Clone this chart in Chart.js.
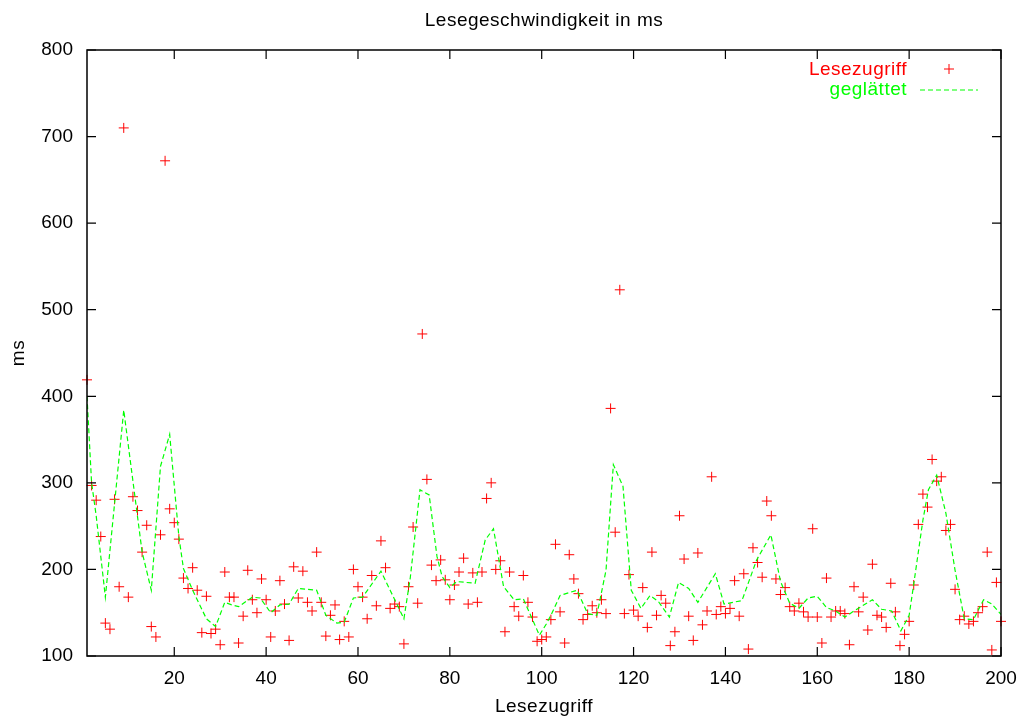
<!DOCTYPE html>
<html>
<head>
<meta charset="utf-8">
<title>Lesegeschwindigkeit in ms</title>
<script src="https://cdn.jsdelivr.net/npm/chart.js@4.4.1/dist/chart.umd.min.js"></script>
<style>
  html, body { margin: 0; padding: 0; background: #fff; }
  #chart { display: block; }
</style>
</head>
<body>
<canvas id="chart" width="1023" height="722"></canvas>
<script>
// Read times per access (ms), access number = index + 1
var readTimes = [
  419, 297, 280, 238, 138, 131, 281, 180, 710, 168,
  284, 268, 220, 251, 134, 122, 240, 672, 270, 254,
  235, 190, 178, 202, 176, 127, 169, 126, 131, 113,
  197, 168, 168, 115, 146, 199, 165, 150, 189, 165,
  122, 152, 187, 160, 118, 203, 167, 198, 162, 152,
  220, 162, 123, 147, 159, 119, 140, 122, 200, 180,
  168, 143, 193, 158, 233, 202, 155, 160, 157, 114,
  180, 249, 161, 472, 304, 205, 187, 211, 188, 165,
  182, 197, 213, 160, 196, 162, 197, 282, 300, 200,
  210, 128, 197, 157, 146, 193, 162, 145, 117, 119,
  122, 142, 229, 151, 115, 217, 189, 172, 142, 148,
  158, 150, 165, 149, 386, 243, 523, 149, 194, 153,
  146, 179, 133, 220, 147, 170, 161, 112, 128, 262,
  212, 146, 118, 219, 136, 152, 307, 148, 157, 149,
  155, 187, 146, 195, 108, 225, 208, 191, 279, 262,
  189, 171, 179, 157, 152, 161, 151, 145, 247, 145,
  115, 190, 145, 152, 152, 149, 113, 180, 151, 168,
  130, 206, 147, 145, 133, 184, 151, 112, 125, 140,
  182, 252, 287, 272, 327, 302, 307, 245, 252, 177,
  142, 146, 137, 140, 150, 157, 220, 107, 185, 140
];

// Smoothed curve ("geglättet"), vertices
var smoothX = [
  1, 2, 3, 5, 9, 13, 15, 17, 19, 21,
  22, 24, 27, 29, 31, 32.5, 34, 37, 38.7, 41,
  43, 45, 47, 51, 53, 55.4, 57, 59, 61, 65,
  67, 68, 70, 71.4, 73.5, 75.5, 77.2, 78.3, 80, 81.5,
  85.5, 87.7, 89.5, 91.7, 94, 96, 99.5, 101, 102, 104,
  107.7, 110, 112, 114, 115.6, 117.7, 119.5, 121.6, 123.6, 125.4,
  127.8, 129.8, 132, 134, 137.8, 139.7, 143.6, 146.8, 149.9, 152,
  154, 156, 158, 160, 162, 164, 166, 168, 172, 174,
  176.2, 178.2, 180, 181, 183, 184.2, 186, 188, 190, 192,
  194, 196.2, 198, 200
];
var smoothY = [
  400, 300, 262, 168, 384, 220, 176, 319, 356, 238,
  201, 176, 143, 134, 162, 159, 157, 168, 167, 150,
  159, 160, 178, 176, 147, 138, 139, 167, 168, 198,
  176, 165, 143, 191, 292, 286, 215, 192, 179, 186,
  184, 234, 247, 180, 165, 166, 124, 137, 147, 170,
  176, 149, 147, 199, 321, 296, 176, 155, 170, 163,
  145, 185, 178, 162, 195, 160, 164, 211, 240, 186,
  161, 155, 167, 169, 156, 152, 145, 152, 165, 154,
  152, 129, 147, 183, 257, 292, 309, 265, 199, 143,
  142, 165, 160, 148
];

var xTicks = [20, 40, 60, 80, 100, 120, 140, 160, 180, 200];
var yTicks = [100, 200, 300, 400, 500, 600, 700, 800];

var FONT = "'Liberation Sans', Arial, Helvetica, sans-serif";

var scatterData = readTimes.map(function (v, i) { return { x: i + 1, y: v }; });
var smoothData = smoothX.map(function (x, i) { return { x: x, y: smoothY[i] }; });

// gnuplot look: border, mirrored inward ticks, titles and key
var gnuplotFrame = {
  id: "gnuplotFrame",
  afterDatasetsDraw: function (chart) {
    var ctx = chart.ctx;
    var a = chart.chartArea;
    var xs = chart.scales.x;
    var ys = chart.scales.y;
    var tl = 9;

    ctx.save();
    ctx.strokeStyle = "#000";
    ctx.lineWidth = 1.5;
    ctx.strokeRect(a.left, a.top, a.right - a.left, a.bottom - a.top);

    ctx.lineWidth = 1.2;
    ctx.beginPath();
    xTicks.forEach(function (v) {
      var px = xs.getPixelForValue(v);
      ctx.moveTo(px, a.bottom); ctx.lineTo(px, a.bottom - tl);
      ctx.moveTo(px, a.top); ctx.lineTo(px, a.top + tl);
    });
    yTicks.forEach(function (v) {
      var py = ys.getPixelForValue(v);
      ctx.moveTo(a.left, py); ctx.lineTo(a.left + tl, py);
      ctx.moveTo(a.right, py); ctx.lineTo(a.right - tl, py);
    });
    ctx.stroke();

    var cx = (a.left + a.right) / 2;
    ctx.fillStyle = "#000";
    ctx.font = "19px " + FONT;
    ctx.textAlign = "center";
    ctx.textBaseline = "alphabetic";
    try { ctx.letterSpacing = "0.5px"; } catch (e) {}
    ctx.fillText("Lesegeschwindigkeit in ms", cx, 26);
    ctx.fillText("Lesezugriff", cx, 712);

    ctx.save();
    ctx.translate(24, (a.top + a.bottom) / 2);
    ctx.rotate(-Math.PI / 2);
    ctx.fillText("ms", 0, 0);
    ctx.restore();

    // key
    ctx.textAlign = "right";
    ctx.fillStyle = "#ff0000";
    ctx.fillText("Lesezugriff", 907, 75);
    ctx.fillStyle = "#00ff00";
    ctx.fillText("geglättet", 907, 95);

    ctx.strokeStyle = "#ff0000";
    ctx.lineWidth = 1;
    ctx.beginPath();
    ctx.moveTo(944, 69); ctx.lineTo(954, 69);
    ctx.moveTo(949, 64); ctx.lineTo(949, 74);
    ctx.stroke();

    ctx.strokeStyle = "#00ff00";
    ctx.lineWidth = 1.2;
    ctx.setLineDash([5, 3]);
    ctx.beginPath();
    ctx.moveTo(920, 90); ctx.lineTo(978, 90);
    ctx.stroke();
    ctx.restore();
  }
};

new Chart(document.getElementById("chart"), {
  type: "scatter",
  data: {
    datasets: [{
      label: "geglättet",
      type: "line",
      data: smoothData,
      showLine: true,
      borderColor: "#00ff00",
      borderWidth: 1.2,
      borderDash: [5, 3],
      pointRadius: 0,
      tension: 0,
      fill: false,
      order: 0
    }, {
      label: "Lesezugriff",
      data: scatterData,
      pointStyle: "cross",
      pointRadius: 5,
      borderColor: "#ff0000",
      backgroundColor: "#ff0000",
      borderWidth: 1,
      clip: false,
      order: 1
    }]
  },
  options: {
    responsive: false,
    animation: false,
    layout: { padding: { left: 0, right: 0, top: 50, bottom: 0 } },
    plugins: {
      legend: { display: false },
      title: { display: false },
      tooltip: { enabled: false }
    },
    scales: {
      x: {
        type: "linear",
        min: 1,
        max: 200,
        grid: { display: false, drawTicks: false },
        border: { display: false },
        afterBuildTicks: function (scale) {
          scale.ticks = xTicks.map(function (v) { return { value: v }; });
        },
        afterFit: function (scale) {
          scale.height = 66;
          scale.paddingLeft = 0;
          scale.paddingRight = 22;
        },
        ticks: {
          color: "#000",
          padding: 11,
          maxRotation: 0,
          autoSkip: false,
          font: { family: FONT, size: 19 }
        }
      },
      y: {
        type: "linear",
        min: 100,
        max: 800,
        grid: { display: false, drawTicks: false },
        border: { display: false },
        afterBuildTicks: function (scale) {
          scale.ticks = yTicks.map(function (v) { return { value: v }; });
        },
        afterFit: function (scale) {
          scale.width = 87;
          scale.paddingTop = 0;
          scale.paddingBottom = 0;
        },
        ticks: {
          color: "#000",
          padding: 14,
          font: { family: FONT, size: 19 }
        }
      }
    }
  },
  plugins: [gnuplotFrame]
});
</script>
</body>
</html>
